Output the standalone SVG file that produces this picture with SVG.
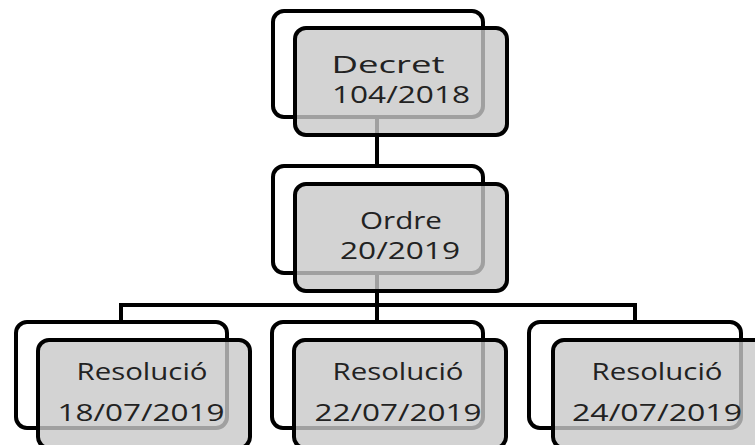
<svg xmlns="http://www.w3.org/2000/svg" width="755" height="445" viewBox="0 0 755 445">
  <style>
    .back { fill: #ffffff; stroke: #000000; stroke-width: 4; }
    .front { fill: #c8c8c8; fill-opacity: 0.8; stroke: #000000; stroke-width: 4; }
    .link { fill: none; stroke: #000000; stroke-width: 4; }
    .label { font-family: "Open Sans", "Noto Sans", sans-serif; font-size: 24px; fill: #222222; text-anchor: middle; }
  </style>
  <rect width="755" height="445" fill="#ffffff"/>

  <!-- connectors -->
  <g id="connectors">
    <path class="link" d="M377 117 V166"/>
    <path class="link" d="M377 273 V305"/>
    <path class="link" d="M121 322 V305 H635 V322"/>
    <path class="link" d="M377 305 V322"/>
  </g>

  <!-- Decret 104/2018 -->
  <g id="decret">
    <rect class="back" x="273" y="11" width="210" height="106" rx="11"/>
    <rect class="front" x="295" y="28" width="212" height="107" rx="11"/>
    <text class="label" x="388" y="73" textLength="113" lengthAdjust="spacingAndGlyphs">Decret</text>
    <text class="label" x="401" y="103" textLength="138" lengthAdjust="spacingAndGlyphs">104/2018</text>
  </g>

  <!-- Ordre 20/2019 -->
  <g id="ordre">
    <rect class="back" x="273" y="166" width="210" height="107" rx="11"/>
    <rect class="front" x="295" y="184" width="212" height="107" rx="11"/>
    <text class="label" x="401" y="229" textLength="82" lengthAdjust="spacingAndGlyphs">Ordre</text>
    <text class="label" x="400" y="259" textLength="120" lengthAdjust="spacingAndGlyphs">20/2019</text>
  </g>

  <!-- Resolució 18/07/2019 -->
  <g id="res-18">
    <rect class="back" x="16" y="322" width="211" height="106" rx="11"/>
    <rect class="front" x="38" y="340" width="212" height="108" rx="11"/>
    <text class="label" x="142" y="380" textLength="131" lengthAdjust="spacingAndGlyphs">Resolució</text>
    <text class="label" x="141" y="421" textLength="167" lengthAdjust="spacingAndGlyphs">18/07/2019</text>
  </g>

  <!-- Resolució 22/07/2019 -->
  <g id="res-22">
    <rect class="back" x="272" y="322" width="211" height="106" rx="11"/>
    <rect class="front" x="294" y="340" width="212" height="108" rx="11"/>
    <text class="label" x="398" y="380" textLength="131" lengthAdjust="spacingAndGlyphs">Resolució</text>
    <text class="label" x="398" y="421" textLength="167" lengthAdjust="spacingAndGlyphs">22/07/2019</text>
  </g>

  <!-- Resolució 24/07/2019 -->
  <g id="res-24">
    <rect class="back" x="529" y="322" width="212" height="106" rx="11"/>
    <rect class="front" x="553" y="340" width="212" height="108" rx="11"/>
    <text class="label" x="657" y="380" textLength="131" lengthAdjust="spacingAndGlyphs">Resolució</text>
    <text class="label" x="657" y="421" textLength="170" lengthAdjust="spacingAndGlyphs">24/07/2019</text>
  </g>
</svg>
